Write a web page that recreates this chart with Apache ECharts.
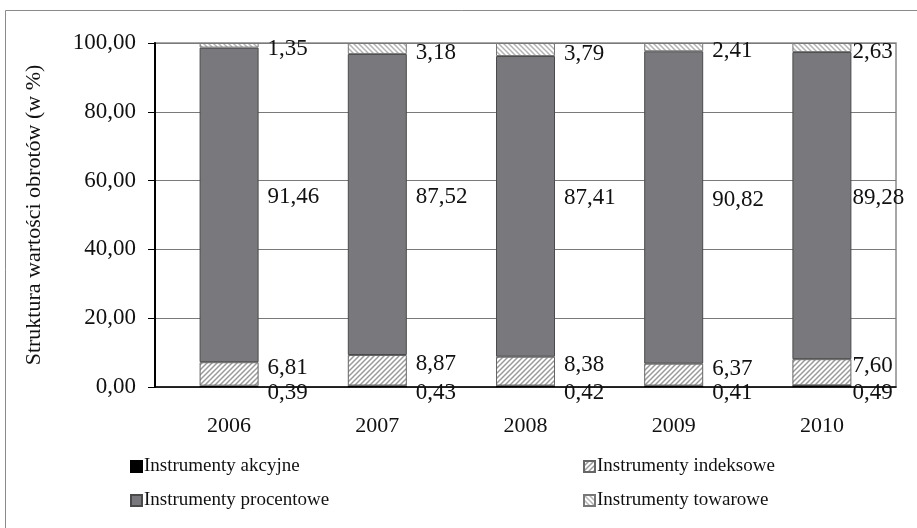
<!DOCTYPE html>
<html>
<head>
<meta charset="utf-8">
<script src="https://cdn.jsdelivr.net/npm/echarts@6/dist/echarts.min.js"></script>
<style>
  html, body { margin: 0; padding: 0; background: #fff; }
  #chart { width: 917px; height: 528px; }
</style>
</head>
<body>
<div id="chart"></div>
<script>
// Structure of turnover value by instrument group, 2006-2010 (in %)
const years = ['2006', '2007', '2008', '2009', '2010'];
const akcyjne = [0.39, 0.43, 0.42, 0.41, 0.49];
const indeksowe = [6.81, 8.87, 8.38, 6.37, 7.60];
const procentowe = [91.46, 87.52, 87.41, 90.82, 89.28];
const towarowe = [1.35, 3.18, 3.79, 2.41, 2.63];
const seriesNames = ['Instrumenty akcyjne', 'Instrumenty indeksowe', 'Instrumenty procentowe', 'Instrumenty towarowe'];

const FONT = '"Liberation Serif", "DejaVu Serif", serif';

// diagonal hatch fill
function hatch(dir, stroke, lineW) {
  const s = 5;
  const c = document.createElement('canvas');
  c.width = s; c.height = s;
  const g = c.getContext('2d');
  g.fillStyle = '#fff';
  g.fillRect(0, 0, s, s);
  g.strokeStyle = stroke;
  g.lineWidth = lineW;
  g.beginPath();
  if (dir === '/') {
    g.moveTo(-1, 1); g.lineTo(1, -1);
    g.moveTo(0, s); g.lineTo(s, 0);
    g.moveTo(s - 1, s + 1); g.lineTo(s + 1, s - 1);
  } else {
    g.moveTo(-1, s - 1); g.lineTo(1, s + 1);
    g.moveTo(0, 0); g.lineTo(s, s);
    g.moveTo(s - 1, -1); g.lineTo(s + 1, 1);
  }
  g.stroke();
  return { image: c, repeat: 'repeat' };
}

const fmt = v => v.toFixed(2).replace('.', ',');

function withLabels(values, dy) {
  return values.map((v, i) => ({
    value: v,
    label: { distance: i === values.length - 1 ? 1 : 9, offset: [0, dy] }
  }));
}

const labelBase = {
  show: true,
  position: 'right',
  color: '#111',
  fontFamily: FONT,
  fontSize: 23,
  formatter: p => fmt(p.value)
};

const chart = echarts.init(document.getElementById('chart'), null, { renderer: 'canvas' });

const legendPos = [
  { left: 125, top: 452 },
  { left: 578, top: 452 },
  { left: 125, top: 486 },
  { left: 578, top: 486 }
];

chart.setOption({
  animation: false,
  backgroundColor: '#fff',
  graphic: [{
    type: 'rect',
    shape: { x: 5.5, y: 10.5, width: 1000, height: 1000 },
    style: { fill: 'none', stroke: '#8a8a8a', lineWidth: 1 },
    silent: true
  }],
  grid: {
    left: 155, right: 21, top: 43, bottom: 141,
    show: true, borderColor: '#8a8a8a', borderWidth: 1.5, backgroundColor: 'transparent'
  },
  legend: seriesNames.map((n, i) => ({
    data: [n],
    left: legendPos[i].left,
    top: legendPos[i].top,
    itemWidth: 11,
    itemHeight: 11,
    icon: 'rect',
    textStyle: { fontFamily: FONT, fontSize: 19, color: '#111', padding: [0, 0, 0, -3] }
  })),
  xAxis: {
    type: 'category',
    data: years,
    axisLine: { lineStyle: { color: '#000', width: 1.5 } },
    axisTick: { show: false },
    axisLabel: { fontFamily: FONT, fontSize: 22, color: '#111', margin: 28 }
  },
  yAxis: {
    type: 'value',
    min: 0, max: 100, interval: 20,
    name: 'Struktura wartości obrotów (w %)',
    nameLocation: 'middle',
    nameGap: 110,
    nameTextStyle: { fontFamily: FONT, fontSize: 22, color: '#111' },
    axisLine: { show: true, lineStyle: { color: '#000', width: 2 } },
    axisTick: { show: true, length: 7, lineStyle: { color: '#000' } },
    axisLabel: { fontFamily: FONT, fontSize: 23, color: '#111', margin: 19, formatter: v => fmt(v) },
    splitLine: { lineStyle: { color: '#7a7a7a', width: 1 } }
  },
  series: [
    {
      name: seriesNames[0], type: 'bar', stack: 'a', barWidth: 59,
      itemStyle: { color: '#000', borderColor: '#000', borderWidth: 1.2 },
      label: labelBase,
      data: withLabels(akcyjne, 7)
    },
    {
      name: seriesNames[1], type: 'bar', stack: 'a', barWidth: 59,
      itemStyle: { color: hatch('/', '#9a9a9a', 1.5), borderColor: '#666', borderWidth: 1 },
      label: labelBase,
      data: withLabels(indeksowe, -6)
    },
    {
      name: seriesNames[2], type: 'bar', stack: 'a', barWidth: 59,
      itemStyle: { color: '#78787d', borderColor: '#4a4a4a', borderWidth: 1 },
      label: labelBase,
      data: withLabels(procentowe, -8)
    },
    {
      name: seriesNames[3], type: 'bar', stack: 'a', barWidth: 59,
      itemStyle: { color: hatch('\\', '#b4b4b4', 1.5), borderColor: '#777', borderWidth: 1 },
      label: labelBase,
      data: withLabels(towarowe, 4)
    }
  ]
});
</script>
</body>
</html>
